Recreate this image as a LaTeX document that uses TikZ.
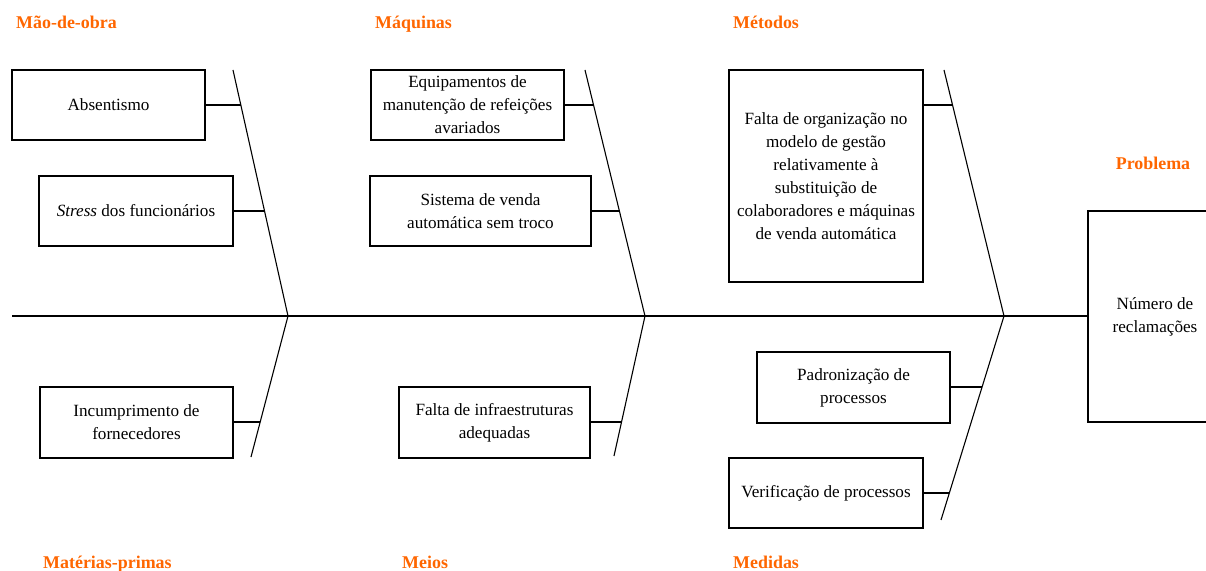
\documentclass[tikz,border=0pt]{standalone}
\usepackage{fontspec}
\setmainfont{Liberation Serif}
\usepackage{tikz}
\definecolor{catorange}{RGB}{255,102,0}
\tikzstyle{cause} = [rectangle, draw=black, line width=1.4bp, align=center, inner sep=0pt, font=\fontsize{17.2}{23}\selectfont]
\tikzstyle{category} = [inner sep=0pt, text=catorange, font=\fontsize{18}{20}\selectfont\bfseries]
\tikzstyle{bone} = [line width=1.1bp]
\tikzstyle{link} = [line width=1.5bp]

\begin{document}
\begin{tikzpicture}[x=1bp,y=-1bp]
    \useasboundingbox (0,0) rectangle (1206,571);

    % Categories
    \node (maodeobra) [category, anchor=base west] at (16,29) {Mão-de-obra};
    \node (maquinas) [category, anchor=base west] at (375,29) {Máquinas};
    \node (metodos) [category, anchor=base west] at (733,29) {Métodos};
    \node (materias) [category, anchor=base west] at (43,568) {Matérias-primas};
    \node (meios) [category, anchor=base west] at (402,568) {Meios};
    \node (medidas) [category, anchor=base west] at (733,568) {Medidas};
    \node (problema) [category, anchor=base] at (1153,169.5) {Problema};

    % Causes
    \node (absentismo) [cause, minimum width=193bp, minimum height=70bp] at (108.5,105) {Absentismo};
    \node (stress) [cause, minimum width=194bp, minimum height=70bp] at (136,211) {\textit{Stress} dos funcionários};
    \node (incumprimento) [cause, minimum width=193bp, minimum height=71bp] at (136.5,422.5) {Incumprimento de\\fornecedores};
    \node (equipamentos) [cause, minimum width=193bp, minimum height=70bp] at (467.5,105) {Equipamentos de\\manutenção de refeições\\avariados};
    \node (sistema) [cause, minimum width=221bp, minimum height=70bp] at (480.5,211) {Sistema de venda\\automática sem troco};
    \node (infraestruturas) [cause, minimum width=191bp, minimum height=71bp] at (494.5,422.5) {Falta de infraestruturas\\adequadas};
    \node (organizacao) [cause, minimum width=194bp, minimum height=212bp] at (826,176) {Falta de organização no\\modelo de gestão\\relativamente à\\substituição de\\colaboradores e máquinas\\de venda automática};
    \node (padronizacao) [cause, minimum width=193bp, minimum height=71bp] at (853.5,387.5) {Padronização de\\processos};
    \node (verificacao) [cause, minimum width=194bp, minimum height=70bp] at (826,493) {Verificação de processos};

    % Effect
    \node (reclamacoes) [cause, minimum width=134bp, minimum height=211bp] at (1155,316.5) {Número de\\reclamações};

    % Spine and bones
    \coordinate (tail) at (12,316);
    \coordinate (motop) at (233,70);
    \coordinate (mohead) at (288,316);
    \coordinate (mpend) at (251,457);
    \coordinate (maqtop) at (585,70);
    \coordinate (maqhead) at (645,316);
    \coordinate (meiend) at (614,456);
    \coordinate (mettop) at (944,70);
    \coordinate (methead) at (1004,316);
    \coordinate (medend) at (941,520);

    \draw [bone] (tail) -- (reclamacoes.west |- tail);
    \draw [bone] (motop) -- (mohead) -- (mpend);
    \draw [bone] (maqtop) -- (maqhead) -- (meiend);
    \draw [bone] (mettop) -- (methead) -- (medend);

    % Links
    \coordinate (absend) at (240.8,105);
    \coordinate (stressend) at (264.5,211);
    \coordinate (incend) at (259.9,422);
    \coordinate (equipend) at (593.3,105);
    \coordinate (sistend) at (619.4,211);
    \coordinate (infraend) at (621.6,422);
    \coordinate (orgend) at (952.5,105);
    \coordinate (padend) at (981.9,387);
    \coordinate (verend) at (949.3,493);

    \draw [link] (incumprimento.east |- incend) -- (incend);
    \draw [link] (absentismo.east) -- (absend);
    \draw [link] (stress.east) -- (stressend);
    \draw [link] (equipamentos.east) -- (equipend);
    \draw [link] (sistema.east) -- (sistend);
    \draw [link] (infraestruturas.east |- infraend) -- (infraend);
    \draw [link] (organizacao.east |- orgend) -- (orgend);
    \draw [link] (padronizacao.east |- padend) -- (padend);
    \draw [link] (verificacao.east) -- (verend);

\end{tikzpicture}
\end{document}
